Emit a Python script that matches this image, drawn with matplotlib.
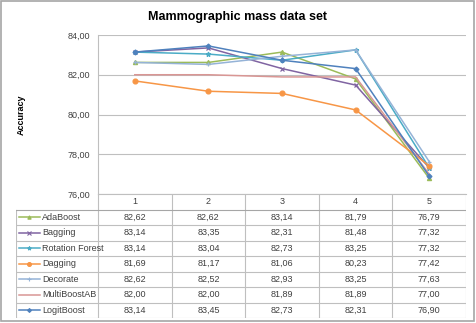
import matplotlib.pyplot as plt
from matplotlib.patches import Rectangle

plt.rcParams['font.family'] = ['Liberation Sans', 'DejaVu Sans']

categories = ['1', '2', '3', '4', '5']
methods = ['AdaBoost', 'Bagging', 'Rotation Forest', 'Dagging',
           'Decorate', 'MultiBoostAB', 'LogitBoost']
adaboost = [82.62, 82.62, 83.14, 81.79, 76.79]
bagging = [83.14, 83.35, 82.31, 81.48, 77.32]
rotation_forest = [83.14, 83.04, 82.73, 83.25, 77.32]
dagging = [81.69, 81.17, 81.06, 80.23, 77.42]
decorate = [82.62, 82.52, 82.93, 83.25, 77.63]
multiboost = [82.00, 82.00, 81.89, 81.89, 77.00]
logitboost = [83.14, 83.45, 82.73, 82.31, 76.90]
series = [adaboost, bagging, rotation_forest, dagging, decorate, multiboost, logitboost]

colors = ['#9BBB59', '#8064A2', '#4BACC6', '#F79646', '#95B3D7', '#D99694', '#4F81BD']
markers = ['^', 'x', '*', 'o', '+', '', 'D']
msizes = [3, 3, 3.5, 3.5, 3.5, 0, 2.5]

W, H = 476, 323
fig = plt.figure(figsize=(W / 100, H / 100), dpi=100)
fig.patch.set_facecolor('white')
fig.add_artist(Rectangle((0.002, 0.006), 0.994, 0.99, transform=fig.transFigure,
                         fill=False, edgecolor='#A6A6A6', lw=1.2))

# plot area in pixels
px0, px1 = 98, 466
py_top, py_bot = 35, 194
ax = fig.add_axes([px0 / W, 1 - py_bot / H, (px1 - px0) / W, (py_bot - py_top) / H])
x = list(range(1, len(categories) + 1))
for vals, c, m, ms in zip(series, colors, markers, msizes):
    ax.plot(x, vals, color=c, marker=m, markersize=ms, lw=1.1, mew=0.9)
ax.set_xlim(0.5, 5.5)
ax.set_ylim(76, 84)
ax.set_yticks([76, 78, 80, 82, 84])
ax.set_yticklabels(['76,00', '78,00', '80,00', '82,00', '84,00'], fontsize=6.5, color='#404040')
ax.set_xticks([])
ax.grid(axis='y', color='#BFBFBF', lw=0.8)
ax.set_axisbelow(True)
for s in ['top', 'right']:
    ax.spines[s].set_visible(False)
ax.spines['left'].set_color('#BFBFBF')
ax.spines['bottom'].set_color('#BFBFBF')
ax.tick_params(axis='y', length=0, pad=6)
ax.set_ylabel('Accuracy', fontsize=6.5, fontweight='bold')
ax.yaxis.set_label_coords((26 - px0) / (px1 - px0), 0.5)
fig.text(0.5, 1 - 17 / H, 'Mammographic mass data set',
         ha='center', va='center', fontsize=9, fontweight='bold')

# data table drawn in its own axes sharing the category scale
tx0 = 16
label_w = (px0 - tx0) / ((px1 - px0) / 5)
t_top, t_bot = 194, 318
tax = fig.add_axes([tx0 / W, 1 - t_bot / H, (px1 - tx0) / W, (t_bot - t_top) / H])
tax.set_xlim(0.5 - label_w, 5.5)
nrows = len(methods) + 1
tax.set_ylim(nrows, 0)
tax.axis('off')
gc = '#BFBFBF'
# header row: only column separators
for i in range(len(categories) + 1):
    tax.plot([0.5 + i, 0.5 + i], [0, nrows], color=gc, lw=0.8)
tax.plot([0.5 - label_w, 0.5 - label_w], [1, nrows], color=gc, lw=0.8)
for r in range(1, nrows + 1):
    tax.plot([0.5 - label_w, 5.5], [r, r], color='#A6A6A6' if r == 1 else gc, lw=0.8)
for i, cat in enumerate(categories):
    tax.text(i + 1, 0.5, cat, ha='center', va='center', fontsize=6.5, color='#404040')
for r, (name, vals, c, m, ms) in enumerate(zip(methods, series, colors, markers, msizes)):
    y = r + 1.5
    kx0 = 0.5 - label_w + 0.04
    tax.plot([kx0, kx0 + 0.28], [y, y], color=c, lw=1.1)
    if m:
        tax.plot([kx0 + 0.14], [y], color=c, marker=m, markersize=ms * 0.8, mew=0.8)
    tax.text(kx0 + 0.31, y, name, ha='left', va='center', fontsize=6.5, color='#404040')
    for i, v in enumerate(vals):
        tax.text(i + 1, y, f'{v:.2f}'.replace('.', ','), ha='center', va='center',
                 fontsize=6.5, color='#404040')

fig.savefig('out.png', dpi=100)
